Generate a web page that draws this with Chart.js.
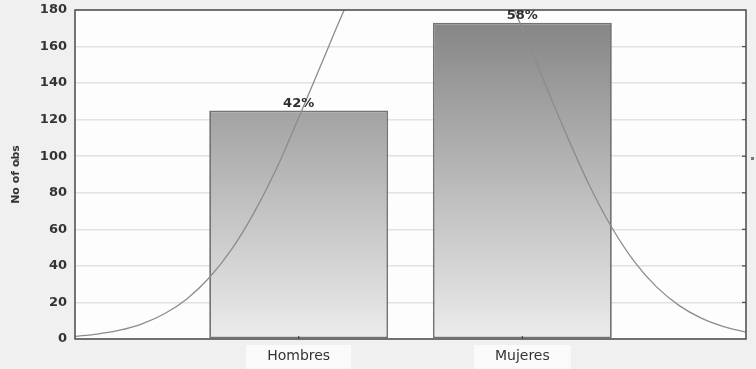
<!DOCTYPE html>
<html>
<head>
<meta charset="utf-8">
<script src="https://cdn.jsdelivr.net/npm/chart.js@4/dist/chart.umd.min.js"></script>
<style>
  html, body { margin: 0; padding: 0; background: #efefef; }
  #wrap { width: 756px; height: 369px; }
</style>
</head>
<body>
<div id="wrap"><canvas id="c" width="756" height="369"></canvas></div>
<script>
// Frequency of observations by sex
const categories = ['Hombres', 'Mujeres'];
const categoryPos = [0, 1];
const counts = [125, 173];

// Fitted normal curve (x in category units, y in number of observations)
const curveX = [-1.0, -0.9, -0.8, -0.7, -0.6, -0.5, -0.4, -0.3, -0.2, -0.1,
                 0.0,  0.1,  0.2,  0.3,  0.4,  0.5,  0.6,  0.7,  0.8,  0.9,
                 1.0,  1.1,  1.2,  1.3,  1.4,  1.5,  1.6,  1.7,  1.8,  1.9, 2.0];
const curveY = [1.4, 2.7, 4.8, 8.3, 13.8, 21.9, 33.5, 49, 69, 93,
                121, 150, 179, 205, 225, 238, 241, 234, 218, 196,
                170, 140, 111, 84, 61, 42.5, 28.5, 18.4, 11.4, 6.8, 3.8];

const yMin = 0, yMax = 180, yStep = 20;

const total = counts.reduce((a, b) => a + b, 0);

const chromePlugin = {
  id: 'chrome',
  beforeDraw(chart) {
    const { ctx, chartArea: a, scales } = chart;
    ctx.save();
    ctx.fillStyle = '#f0f0f0';
    ctx.fillRect(0, 0, chart.width, chart.height);
    ctx.fillStyle = '#fdfdfd';
    ctx.fillRect(a.left, a.top, a.right - a.left, a.bottom - a.top);
    // pale panels behind the category names
    ctx.font = '14px "DejaVu Sans"';
    ctx.fillStyle = '#fafafa';
    categories.forEach((name, i) => {
      const cx = scales.x.getPixelForValue(categoryPos[i]);
      const w = ctx.measureText(name).width + 42;
      ctx.fillRect(cx - w / 2, a.bottom + 6, w, chart.height - a.bottom - 6);
    });
    ctx.restore();
  },
  afterDraw(chart) {
    const { ctx, chartArea: a, scales } = chart;
    ctx.save();
    // frame of the plot area
    ctx.strokeStyle = '#4a4a4a';
    ctx.lineWidth = 1.5;
    ctx.strokeRect(a.left, a.top, a.right - a.left, a.bottom - a.top);
    // inner tick marks on the right edge
    ctx.lineWidth = 1.2;
    for (let v = yMin + yStep; v < yMax; v += yStep) {
      const y = scales.y.getPixelForValue(v);
      ctx.beginPath();
      ctx.moveTo(a.right - 4, y);
      ctx.lineTo(a.right, y);
      ctx.stroke();
    }
    // small tick marks at category centres
    categoryPos.forEach(p => {
      const x = scales.x.getPixelForValue(p);
      ctx.beginPath();
      ctx.moveTo(x, a.bottom);
      ctx.lineTo(x, a.bottom - 3);
      ctx.stroke();
    });
    // percentage labels above bars
    ctx.fillStyle = '#2e2e2e';
    ctx.font = 'bold 13px "DejaVu Sans"';
    ctx.textAlign = 'center';
    ctx.textBaseline = 'alphabetic';
    counts.forEach((v, i) => {
      const x = scales.x.getPixelForValue(categoryPos[i]);
      const y = scales.y.getPixelForValue(v);
      ctx.fillText(Math.round(v / total * 100) + '%', x, y - 4);
    });
    // small markers at the sides
    ctx.fillStyle = '#777';
    ctx.fillRect(15, 159, 4, 1.5);
    ctx.fillRect(751, 157, 3, 3);
    ctx.restore();
  }
};

new Chart(document.getElementById('c'), {
  type: 'bar',
  data: {
    datasets: [
      {
        type: 'line',
        data: curveX.map((x, i) => ({ x: x, y: curveY[i] })),
        borderColor: '#8c8c8c',
        borderWidth: 1.3,
        pointRadius: 0,
        cubicInterpolationMode: 'monotone',
        fill: false,
        order: 0
      },
      {
        type: 'bar',
        data: categoryPos.map((x, i) => ({ x: x, y: counts[i] })),
        backgroundColor(ctx) {
          const a = ctx.chart.chartArea;
          if (!a) return '#aaa';
          const g = ctx.chart.ctx.createLinearGradient(0, a.top, 0, a.bottom);
          g.addColorStop(0, '#828282');
          g.addColorStop(1, '#ececec');
          return g;
        },
        borderColor: '#747474',
        borderWidth: 1.8,
        borderSkipped: false,
        categoryPercentage: 0.8,
        barPercentage: 1.0,
        order: 1
      }
    ]
  },
  options: {
    responsive: false,
    animation: false,
    layout: { padding: { top: 0, right: 10, left: 0, bottom: 0 } },
    plugins: { legend: { display: false }, tooltip: { enabled: false } },
    scales: {
      x: {
        type: 'linear',
        offset: false,
        min: -1,
        max: 2,
        grid: { display: false, drawTicks: false, offset: false },
        border: { display: false },
        ticks: {
          stepSize: 1,
          padding: 9,
          color: '#333',
          font: { family: 'DejaVu Sans', size: 14 },
          callback(v) {
            const i = categoryPos.indexOf(v);
            return i >= 0 ? categories[i] : '';
          }
        },
        afterFit(s) { s.height = 30; s.paddingLeft = 0; s.paddingRight = 0; }
      },
      y: {
        min: yMin,
        max: yMax,
        grid: { color: '#e2e2e2', lineWidth: 1.5, drawTicks: false },
        border: { display: false },
        ticks: {
          stepSize: yStep,
          padding: 8,
          color: '#333',
          font: { family: 'DejaVu Sans', size: 13, weight: 'bold', lineHeight: 1.1 }
        },
        title: {
          display: true,
          text: 'No of obs',
          color: '#333',
          font: { family: 'DejaVu Sans', size: 11, weight: 'bold' },
          padding: { top: 10, bottom: 0 }
        },
        afterFit(s) { s.width = 75; s.paddingTop = 10; s.paddingBottom = 0; }
      }
    }
  },
  plugins: [chromePlugin]
});
</script>
</body>
</html>
